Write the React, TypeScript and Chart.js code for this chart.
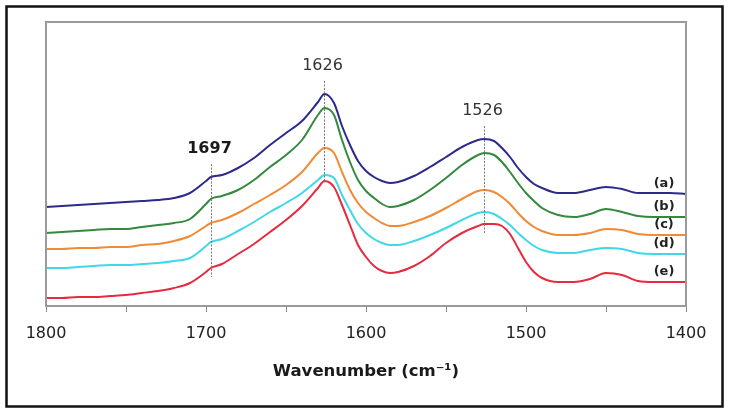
import React, { useEffect, useRef } from "react";
import { Chart, registerables } from "chart.js";

Chart.register(...registerables);

const wavenumbers = [1800,1790,1780,1770,1760,1750,1740,1730,1720,1710,1700,1697,1690,1680,1670,1660,1650,1640,1630,1626,1620,1615,1610,1605,1600,1595,1590,1585,1580,1570,1560,1550,1540,1530,1526,1520,1515,1510,1505,1500,1495,1490,1480,1470,1460,1450,1440,1430,1420,1410,1400];

const seriesA = [0.99,1.00,1.01,1.02,1.03,1.04,1.05,1.06,1.08,1.13,1.25,1.29,1.31,1.38,1.48,1.61,1.73,1.85,2.04,2.12,2.03,1.80,1.61,1.45,1.35,1.29,1.25,1.23,1.24,1.30,1.39,1.49,1.59,1.66,1.67,1.65,1.58,1.49,1.38,1.29,1.22,1.18,1.13,1.13,1.16,1.19,1.17,1.13,1.13,1.13,1.12];
const seriesB = [0.73,0.74,0.75,0.76,0.77,0.77,0.79,0.81,0.83,0.87,1.02,1.07,1.10,1.16,1.26,1.39,1.51,1.66,1.91,1.98,1.91,1.66,1.44,1.26,1.15,1.08,1.02,0.99,1.00,1.06,1.16,1.28,1.41,1.51,1.53,1.51,1.44,1.34,1.23,1.13,1.05,0.98,0.91,0.89,0.92,0.97,0.94,0.90,0.89,0.89,0.89];
const seriesC = [0.57,0.57,0.58,0.58,0.59,0.59,0.61,0.62,0.65,0.70,0.80,0.83,0.86,0.93,1.02,1.11,1.21,1.34,1.53,1.58,1.53,1.34,1.16,1.03,0.94,0.88,0.83,0.80,0.80,0.84,0.90,0.98,1.07,1.15,1.16,1.14,1.09,1.02,0.93,0.85,0.79,0.75,0.71,0.71,0.73,0.77,0.76,0.72,0.71,0.71,0.71];
const seriesD = [0.38,0.38,0.39,0.40,0.41,0.41,0.42,0.43,0.45,0.48,0.60,0.64,0.67,0.75,0.84,0.94,1.03,1.13,1.26,1.31,1.28,1.11,0.96,0.82,0.73,0.67,0.63,0.61,0.61,0.65,0.71,0.78,0.86,0.93,0.94,0.92,0.87,0.81,0.73,0.66,0.60,0.56,0.53,0.53,0.56,0.58,0.57,0.53,0.52,0.52,0.52];
const seriesE = [0.08,0.08,0.09,0.09,0.10,0.11,0.13,0.15,0.18,0.23,0.34,0.38,0.42,0.52,0.62,0.74,0.86,1.00,1.18,1.25,1.19,1.01,0.81,0.61,0.49,0.40,0.35,0.33,0.34,0.40,0.50,0.63,0.73,0.80,0.82,0.82,0.80,0.72,0.58,0.44,0.34,0.28,0.24,0.24,0.27,0.33,0.31,0.25,0.24,0.24,0.24];

const seriesLabels = ["(a)", "(b)", "(c)", "(d)", "(e)"];
const seriesColors = ["#2c2a8a", "#33893d", "#f08a35", "#40d8e8", "#e62a40"];
const peakPositions = [1697, 1626, 1526];
const peakLabels = ["1697", "1626", "1526"];
const peakBold = [true, false, false];
const xTickValues = [1800, 1700, 1600, 1500, 1400];

const allSeries = [seriesA, seriesB, seriesC, seriesD, seriesE];

const overlayPlugin = {
  id: "overlay",
  afterDraw(chart: any) {
    const { ctx, chartArea, scales } = chart;
    const xs = scales.x;
    const ys = scales.y;
    ctx.save();
    // outer frame
    ctx.strokeStyle = "#111";
    ctx.lineWidth = 2.5;
    ctx.strokeRect(6.5, 6.5, 716, 400);
    // plot frame
    ctx.strokeStyle = "#9a9a9a";
    ctx.lineWidth = 2;
    ctx.strokeRect(chartArea.left, chartArea.top, chartArea.right - chartArea.left, chartArea.bottom - chartArea.top);

    // peak markers
    peakPositions.forEach((wn, i) => {
      const idx = wavenumbers.indexOf(wn);
      const vals = allSeries.map((s) => s[idx]);
      const topPx = ys.getPixelForValue(Math.max(...vals));
      const botPx = ys.getPixelForValue(Math.min(...vals));
      const px = Math.round(xs.getPixelForValue(wn)) + 0.5;
      ctx.strokeStyle = "#777";
      ctx.lineWidth = 1;
      ctx.setLineDash([2, 1.5]);
      ctx.beginPath();
      ctx.moveTo(px, topPx - 13);
      ctx.lineTo(px, botPx + (wn === 1626 ? 2 : 9));
      ctx.stroke();
      ctx.setLineDash([]);
      ctx.fillStyle = peakBold[i] ? "#1a1a1a" : "#333";
      ctx.font = (peakBold[i] ? "bold " : "") + "16px 'DejaVu Sans'";
      ctx.textAlign = "center";
      ctx.textBaseline = "middle";
      ctx.fillText(peakLabels[i], px - 2, topPx - 28);
    });

    // series labels
    ctx.font = "bold 13px 'DejaVu Sans'";
    ctx.fillStyle = "#222";
    ctx.textAlign = "center";
    ctx.textBaseline = "middle";
    allSeries.forEach((s, i) => {
      const py = ys.getPixelForValue(s[s.length - 1]);
      ctx.fillText(seriesLabels[i], chartArea.right - 22, py - 10);
    });
    ctx.restore();
  },
};

export default function App() {
  const canvasRef = useRef<HTMLCanvasElement | null>(null);

  useEffect(() => {
    const canvas = canvasRef.current;
    if (!canvas) return;
    const chart = new Chart(canvas, {
      type: "line",
      data: {
        datasets: allSeries.map((s, i) => ({
          label: seriesLabels[i],
          data: wavenumbers.map((w, j) => ({ x: w, y: s[j] })),
          borderColor: seriesColors[i],
          borderWidth: 2,
          pointRadius: 0,
          cubicInterpolationMode: "monotone",
          tension: 0.4,
          fill: false,
        })),
      },
      options: {
        responsive: false,
        animation: false,
        layout: { padding: { left: 46, right: 43, top: 22, bottom: 0 } },
        plugins: {
          legend: { display: false },
          tooltip: { enabled: false },
        },
        scales: {
          x: {
            type: "linear",
            min: 1400,
            max: 1800,
            reverse: true,
            afterFit: (scale: any) => {
              scale.height = 107;
            },
            afterBuildTicks: (scale: any) => {
              const t = [];
              for (let v = 1800; v >= 1400; v -= 50) t.push({ value: v });
              scale.ticks = t;
            },
            ticks: {
              autoSkip: false,
              maxRotation: 0,
              padding: 12,
              color: "#222",
              font: { family: "'DejaVu Sans'", size: 16 },
              callback: (v: any) => (xTickValues.includes(Number(v)) ? String(v) : ""),
            },
            grid: {
              display: true,
              drawOnChartArea: false,
              drawTicks: true,
              tickLength: 6,
              color: "#888",
              lineWidth: 1,
            },
            border: { display: true, color: "#9a9a9a", width: 2 },
            title: {
              display: true,
              text: "Wavenumber (cm⁻¹)",
              color: "#1a1a1a",
              font: { family: "'DejaVu Sans'", size: 16.5, weight: "bold" },
              padding: { top: 0, bottom: 31 },
            },
          },
          y: {
            display: false,
            min: 0,
            max: 2.84,
          },
        },
      },
      plugins: [overlayPlugin],
    });
    return () => chart.destroy();
  }, []);

  return (
    <div style={{ position: "fixed", left: 0, top: 0, width: 729, height: 413, background: "#fff" }}>
      <canvas ref={canvasRef} width={729} height={413} style={{ display: "block" }} />
    </div>
  );
}
